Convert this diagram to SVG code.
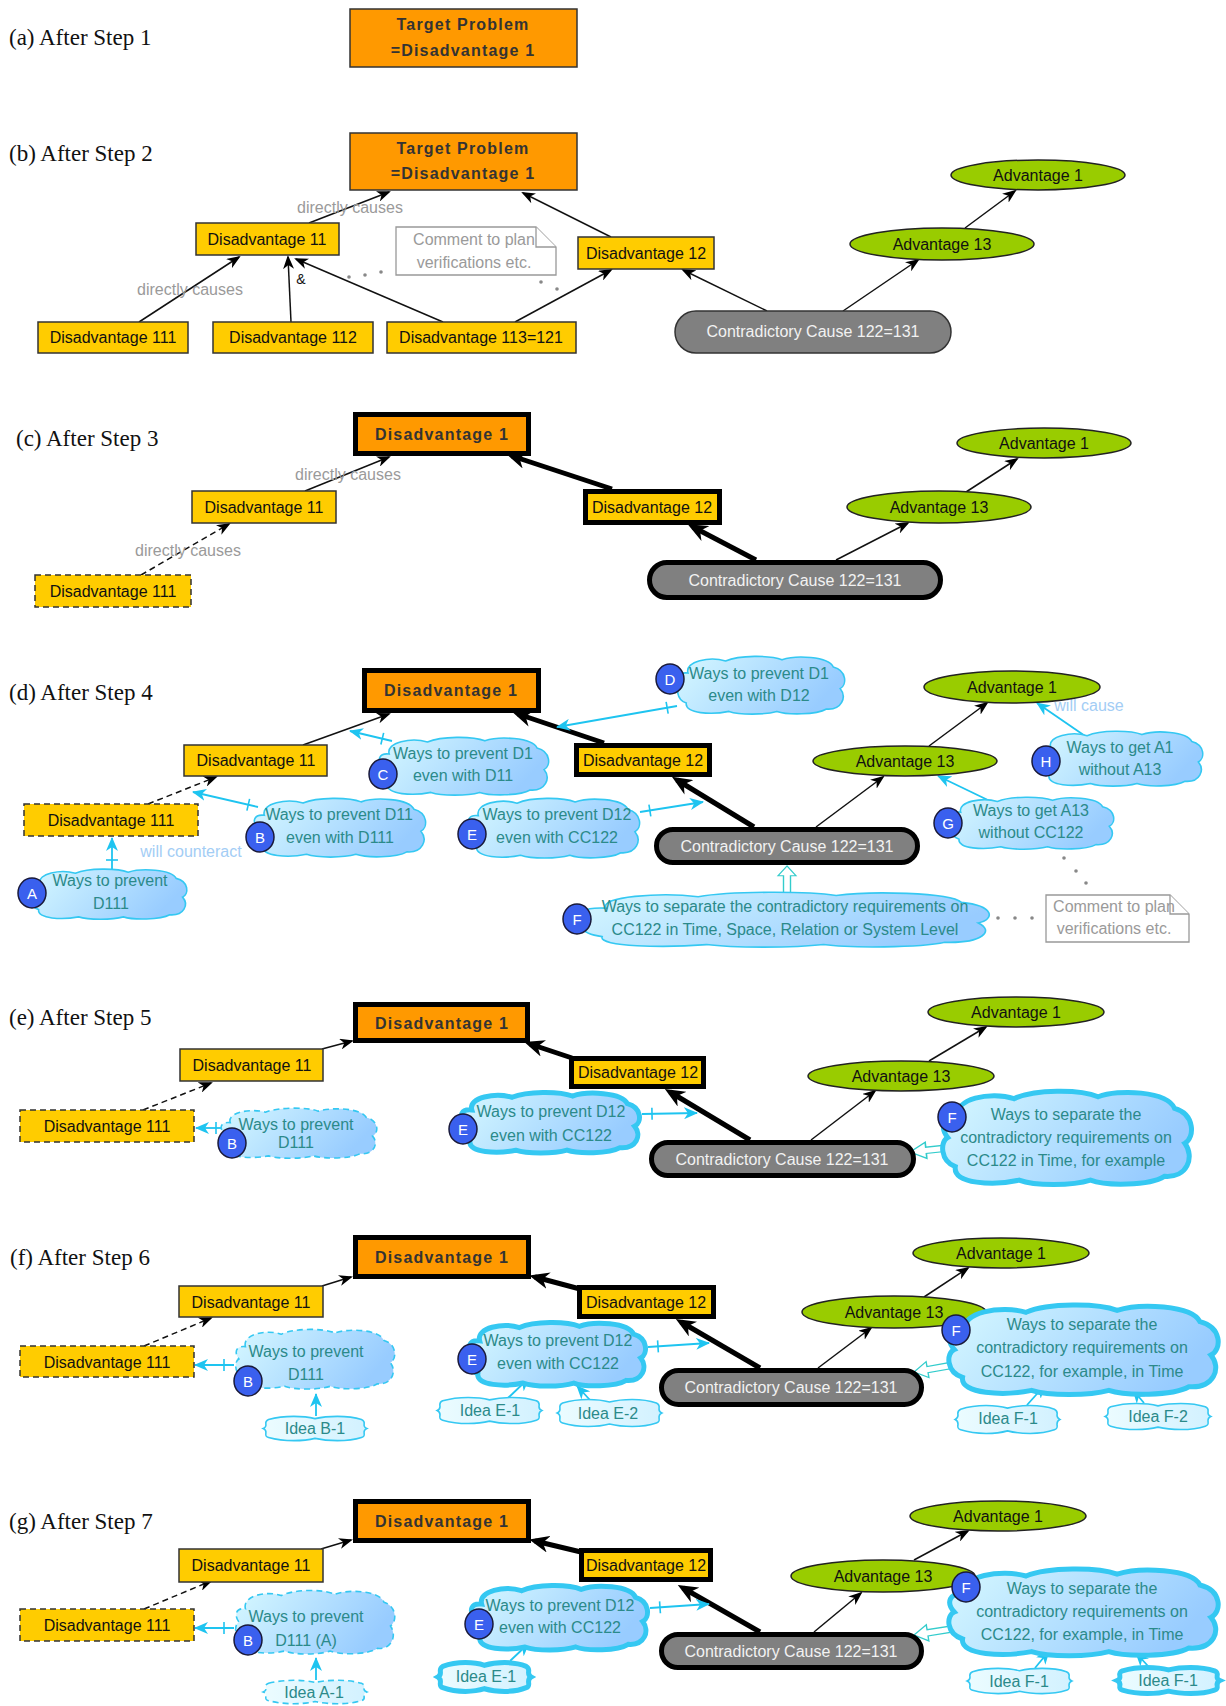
<svg xmlns="http://www.w3.org/2000/svg" xmlns:xlink="http://www.w3.org/1999/xlink" width="1226" height="1706" viewBox="0 0 1226 1706">
<style>
  .lbl{font-family:"Liberation Serif","Times New Roman",serif;font-size:23px;fill:#111;dominant-baseline:central}
  .t{font-family:"Liberation Sans",Arial,sans-serif;font-size:16px;fill:#111;text-anchor:middle;dominant-baseline:central}
  .tb{font-weight:bold;letter-spacing:1.2px;fill:#333}
  .tw{fill:#f2f2f2}
  .tc{fill:#2b8a8a}
  .tg{fill:#9a9a9a}
  .tl{fill:#a3cdf5}
  .ylw{fill:#ffcc00;stroke:#333;stroke-width:1.5}
  .dash{stroke-dasharray:6 4}
  .org{fill:#ff9900;stroke:#333;stroke-width:1.5}
  .adv{fill:#99cc00;stroke:#222;stroke-width:1.5}
  .cc{fill:#808080;stroke:#333;stroke-width:1.5}
  .k{stroke:#000;stroke-width:5}
  .cloud{fill:url(#cg);stroke:#35c8f2;stroke-width:1.6}
  .idea{fill:url(#ig);stroke:#35c8f2;stroke-width:1.6}
  .ck{stroke-width:5}
  .cd{stroke-dasharray:6 4}
  .tag{fill:#3a60ee;stroke:#1a1a3a;stroke-width:1.5}
  .tagt{font-family:"Liberation Sans",Arial,sans-serif;font-size:15px;fill:#fff;text-anchor:middle;dominant-baseline:central}
  .e{fill:none;stroke:#111;stroke-width:1.5;marker-end:url(#ah)}
  .ek{fill:none;stroke:#000;stroke-width:5;marker-end:url(#ahk)}
  .cy{fill:none;stroke:#1ec4f0;stroke-width:1.8;marker-end:url(#ahc)}
  .tick{marker-start:url(#tk)}
  .hol{fill:#fff;stroke:#33cccc;stroke-width:1.4}
  .note{fill:#fff;stroke:#999;stroke-width:1.3}
  .dot{fill:#888}
</style>
<defs>
  <linearGradient id="cg" x1="0" y1="0" x2="1" y2="0.3">
    <stop offset="0" stop-color="#d6f8ff"/>
    <stop offset="1" stop-color="#98ccff"/>
  </linearGradient>
  <linearGradient id="ig" x1="0" y1="0" x2="1" y2="0">
    <stop offset="0" stop-color="#ecfcff"/>
    <stop offset="1" stop-color="#d2f1ff"/>
  </linearGradient>
  <marker id="ah" markerUnits="userSpaceOnUse" markerWidth="14" markerHeight="11" viewBox="0 0 14 11" refX="12" refY="5.5" orient="auto">
    <path d="M0,0 L14,5.5 L0,11 L4,5.5 Z" fill="#000"/>
  </marker>
  <marker id="ahk" markerUnits="userSpaceOnUse" markerWidth="20" markerHeight="17" viewBox="0 0 20 17" refX="14" refY="8.5" orient="auto">
    <path d="M0,0 L20,8.5 L0,17 L6,8.5 Z" fill="#000"/>
  </marker>
  <marker id="ahc" markerUnits="userSpaceOnUse" markerWidth="14" markerHeight="12" viewBox="0 0 14 12" refX="13" refY="6" orient="auto">
    <path d="M0,0 L14,6 L0,12 L4,6 Z" fill="#1ec4f0"/>
  </marker>
  <marker id="tk" markerUnits="userSpaceOnUse" markerWidth="16" markerHeight="14" viewBox="0 -7 16 14" refX="0" refY="0" orient="auto">
    <path d="M10,-6 L10,6" stroke="#1ec4f0" stroke-width="1.6"/>
  </marker>
  <symbol id="cloud" viewBox="0 0 200 100" preserveAspectRatio="none" overflow="visible">
    <path vector-effect="non-scaling-stroke" d="M14,30 C10,10 40,2 58,10 C74,0 110,0 124,8 C140,0 178,2 184,20 C200,26 200,50 192,56 C200,70 194,92 176,90 C164,100 130,100 118,94 C104,100 74,100 62,94 C42,100 10,98 12,80 C0,74 0,54 6,50 C0,40 2,28 14,30 Z"/>
  </symbol>
  <symbol id="ideac" viewBox="0 0 200 60" preserveAspectRatio="none" overflow="visible">
    <path vector-effect="non-scaling-stroke" d="M14,10 C44,0 80,2 100,8 C122,2 160,0 186,10 C198,16 184,24 196,30 C184,36 198,46 186,50 C160,60 122,58 100,52 C80,58 44,60 14,50 C2,46 16,36 4,30 C16,24 2,16 14,10 Z"/>
  </symbol>
  <path id="hollowHead" d="M0,0 L-14,-9 L-14,-3.5 L-40,-3.5 L-40,3.5 L-14,3.5 L-14,9 Z"/>
</defs>

<!-- step captions -->
<g id="captions">
  <text class="lbl" x="9" y="37">(a) After Step 1</text>
  <text class="lbl" x="9" y="153">(b) After Step 2</text>
  <text class="lbl" x="16" y="438">(c) After Step 3</text>
  <text class="lbl" x="9" y="692">(d) After Step 4</text>
  <text class="lbl" x="9" y="1017">(e) After Step 5</text>
  <text class="lbl" x="10" y="1257">(f) After Step 6</text>
  <text class="lbl" x="9" y="1521">(g) After Step 7</text>
</g>

<!-- ===== connectors ===== -->
<g id="connectors">
  <!-- (b) -->
  <line class="e" x1="309" y1="223" x2="389" y2="192"/>
  <line class="e" x1="611" y1="237" x2="523" y2="193"/>
  <line class="e" x1="139" y1="322" x2="239" y2="257"/>
  <line class="e" x1="291" y1="322" x2="288" y2="257"/>
  <line class="e" x1="443" y1="322" x2="296" y2="259"/>
  <line class="e" x1="515" y1="322" x2="611" y2="270"/>
  <line class="e" x1="767" y1="311" x2="683" y2="270"/>
  <line class="e" x1="843" y1="311" x2="918" y2="260"/>
  <line class="e" x1="965" y1="228" x2="1015" y2="191"/>
  <circle class="dot" cx="349" cy="277" r="1.8"/><circle class="dot" cx="365" cy="275" r="1.8"/><circle class="dot" cx="381" cy="272" r="1.8"/>
  <circle class="dot" cx="541" cy="282" r="1.8"/><circle class="dot" cx="557" cy="289" r="1.8"/>

  <!-- (c) -->
  <line class="e" x1="305" y1="491" x2="389" y2="457"/>
  <line class="e dash" x1="141" y1="575" x2="229" y2="524"/>
  <line class="ek" x1="612" y1="489" x2="512" y2="456"/>
  <line class="ek" x1="756" y1="560" x2="693" y2="527"/>
  <line class="e" x1="836" y1="560" x2="908" y2="523"/>
  <line class="e" x1="966" y1="492" x2="1017" y2="459"/>

  <!-- (d) -->
  <line class="e" x1="303" y1="745" x2="389" y2="714"/>
  <line class="e dash" x1="148" y1="804" x2="216" y2="777"/>
  <line class="ek" x1="604" y1="743" x2="518" y2="714"/>
  <line class="ek" x1="754" y1="827" x2="677" y2="780"/>
  <line class="e" x1="816" y1="827" x2="883" y2="777"/>
  <line class="e" x1="929" y1="746" x2="987" y2="703"/>
  <line class="cy tick" x1="392" y1="741" x2="350" y2="731"/>
  <line class="cy tick" x1="258" y1="807" x2="193" y2="792"/>
  <line class="cy tick" x1="112" y1="870" x2="112" y2="838"/>
  <line class="cy tick" x1="640" y1="812" x2="703" y2="802"/>
  <line class="cy tick" x1="677" y1="706" x2="557" y2="727"/>
  <line class="cy" x1="1088" y1="738" x2="1037" y2="703"/>
  <line class="cy" x1="992" y1="802" x2="938" y2="776"/>
  <use href="#hollowHead" class="hol" transform="translate(787,866) rotate(-90) scale(0.7,1)"/>
  <circle class="dot" cx="1064" cy="858" r="1.8"/><circle class="dot" cx="1076" cy="871" r="1.8"/><circle class="dot" cx="1086" cy="883" r="1.8"/>
  <circle class="dot" cx="980" cy="918" r="1.8"/><circle class="dot" cx="998" cy="918" r="1.8"/><circle class="dot" cx="1015" cy="918" r="1.8"/><circle class="dot" cx="1032" cy="918" r="1.8"/>

  <!-- (e) -->
  <line class="e" x1="322" y1="1049" x2="352" y2="1041"/>
  <line class="e dash" x1="143" y1="1110" x2="211" y2="1083"/>
  <line class="ek" x1="572" y1="1058" x2="530" y2="1044"/>
  <line class="ek" x1="750" y1="1140" x2="670" y2="1092"/>
  <line class="e" x1="811" y1="1140" x2="875" y2="1091"/>
  <line class="e" x1="929" y1="1061" x2="986" y2="1027"/>
  <line class="cy tick" x1="226" y1="1128" x2="196" y2="1128"/>
  <line class="cy tick" x1="642" y1="1114" x2="697" y2="1113"/>
  <use href="#hollowHead" class="hol" transform="translate(910,1152) rotate(174) scale(1.15,0.9)"/>

  <!-- (f) -->
  <line class="e" x1="322" y1="1286" x2="351" y2="1277"/>
  <line class="e dash" x1="144" y1="1346" x2="211" y2="1318"/>
  <line class="ek" x1="580" y1="1289" x2="535" y2="1277"/>
  <line class="ek" x1="760" y1="1368" x2="681" y2="1322"/>
  <line class="e" x1="818" y1="1368" x2="871" y2="1328"/>
  <line class="e" x1="924" y1="1297" x2="968" y2="1268"/>
  <line class="cy tick" x1="234" y1="1365" x2="195" y2="1365"/>
  <line class="cy" x1="316" y1="1416" x2="316" y2="1394"/>
  <line class="cy" x1="508" y1="1398" x2="529" y2="1378"/>
  <line class="cy" x1="590" y1="1400" x2="577" y2="1386"/>
  <line class="cy tick" x1="648" y1="1347" x2="709" y2="1343"/>
  <line class="cy" x1="1027" y1="1405" x2="1045" y2="1385"/>
  <line class="cy" x1="1144" y1="1403" x2="1133" y2="1390"/>
  <use href="#hollowHead" class="hol" transform="translate(914,1372) rotate(170) scale(0.98,0.9)"/>

  <!-- (g) -->
  <line class="e" x1="321" y1="1549" x2="351" y2="1540"/>
  <line class="e dash" x1="144" y1="1609" x2="211" y2="1581"/>
  <line class="ek" x1="581" y1="1552" x2="535" y2="1541"/>
  <line class="ek" x1="760" y1="1632" x2="683" y2="1588"/>
  <line class="e" x1="814" y1="1632" x2="861" y2="1593"/>
  <line class="e" x1="914" y1="1560" x2="968" y2="1531"/>
  <line class="cy tick" x1="234" y1="1628" x2="195" y2="1628"/>
  <line class="cy" x1="316" y1="1680" x2="316" y2="1658"/>
  <line class="cy" x1="510" y1="1661" x2="529" y2="1643"/>
  <line class="cy tick" x1="650" y1="1608" x2="709" y2="1604"/>
  <line class="cy" x1="1035" y1="1668" x2="1049" y2="1651"/>
  <line class="cy" x1="1148" y1="1666" x2="1136" y2="1653"/>
  <use href="#hollowHead" class="hol" transform="translate(914,1635) rotate(171) scale(0.98,0.9)"/>
</g>

<!-- edge labels -->
<g id="edge-labels">
  <text class="t tg" x="350" y="207">directly causes</text>
  <text class="t tg" x="190" y="289">directly causes</text>
  <text class="t" x="301" y="279" style="font-size:14px">&amp;</text>
  <text class="t tg" x="348" y="474">directly causes</text>
  <text class="t tg" x="188" y="550">directly causes</text>
  <text class="t tl" x="191" y="851">will counteract</text>
  <text class="t tl" x="1089" y="705">will cause</text>
</g>

<!-- ===== (a) ===== -->
<g id="a-target">
  <rect class="org" x="350" y="9" width="227" height="58"/>
  <text class="t tb" x="463" y="24">Target Problem</text>
  <text class="t tb" x="463" y="50">=Disadvantage 1</text>
</g>

<!-- ===== (b) ===== -->
<g id="b-target">
  <rect class="org" x="350" y="133" width="227" height="57"/>
  <text class="t tb" x="463" y="148">Target Problem</text>
  <text class="t tb" x="463" y="173">=Disadvantage 1</text>
</g>
<g id="b-d11"><rect class="ylw" x="196" y="223" width="143" height="32"/><text class="t" x="267" y="239">Disadvantage 11</text></g>
<g id="b-d12"><rect class="ylw" x="578" y="237" width="136" height="32"/><text class="t" x="646" y="253">Disadvantage 12</text></g>
<g id="b-d111"><rect class="ylw" x="38" y="322" width="150" height="31"/><text class="t" x="113" y="337">Disadvantage 111</text></g>
<g id="b-d112"><rect class="ylw" x="213" y="322" width="160" height="31"/><text class="t" x="293" y="337">Disadvantage 112</text></g>
<g id="b-d113"><rect class="ylw" x="387" y="322" width="189" height="31"/><text class="t" x="481" y="337">Disadvantage 113=121</text></g>
<g id="b-cc"><rect class="cc" x="675" y="311" width="276" height="42" rx="21"/><text class="t tw" x="813" y="331">Contradictory Cause 122=131</text></g>
<g id="b-adv1"><ellipse class="adv" cx="1038" cy="175" rx="87" ry="15"/><text class="t" x="1038" y="175">Advantage 1</text></g>
<g id="b-adv13"><ellipse class="adv" cx="942" cy="244" rx="92" ry="16"/><text class="t" x="942" y="244">Advantage 13</text></g>
<g id="b-note">
  <path class="note" d="M396,227 H536 L556,247 V275 H396 Z"/>
  <path class="note" d="M536,227 V247 H556"/>
  <text class="t tg" x="474" y="239">Comment to plan</text>
  <text class="t tg" x="474" y="262">verifications etc.</text>
</g>

<!-- ===== (c) ===== -->
<g id="c-d1"><rect class="org k" x="355.5" y="414.5" width="173" height="39"/><text class="t tb" x="442" y="434">Disadvantage 1</text></g>
<g id="c-d11"><rect class="ylw" x="192" y="491" width="144" height="32"/><text class="t" x="264" y="507">Disadvantage 11</text></g>
<g id="c-d111"><rect class="ylw dash" x="35" y="575" width="156" height="32"/><text class="t" x="113" y="591">Disadvantage 111</text></g>
<g id="c-d12"><rect class="ylw k" x="585.5" y="491.5" width="134" height="31"/><text class="t" x="652" y="507">Disadvantage 12</text></g>
<g id="c-cc"><rect class="cc k" x="649.5" y="562.5" width="291" height="35" rx="17.5"/><text class="t tw" x="795" y="580">Contradictory Cause 122=131</text></g>
<g id="c-adv1"><ellipse class="adv" cx="1044" cy="443" rx="87" ry="15"/><text class="t" x="1044" y="443">Advantage 1</text></g>
<g id="c-adv13"><ellipse class="adv" cx="939" cy="507" rx="92" ry="16"/><text class="t" x="939" y="507">Advantage 13</text></g>

<!-- ===== (d) ===== -->
<g id="d-d1"><rect class="org k" x="364.5" y="670.5" width="174" height="40"/><text class="t tb" x="451" y="690">Disadvantage 1</text></g>
<g id="d-d11"><rect class="ylw" x="184" y="745" width="143" height="31"/><text class="t" x="256" y="760">Disadvantage 11</text></g>
<g id="d-d111"><rect class="ylw dash" x="24" y="804" width="174" height="32"/><text class="t" x="111" y="820">Disadvantage 111</text></g>
<g id="d-d12"><rect class="ylw k" x="576.5" y="745.5" width="133" height="29"/><text class="t" x="643" y="760">Disadvantage 12</text></g>
<g id="d-cc"><rect class="cc k" x="656.5" y="829.5" width="261" height="33" rx="16.5"/><text class="t tw" x="787" y="846">Contradictory Cause 122=131</text></g>
<g id="d-adv1"><ellipse class="adv" cx="1012" cy="687" rx="88" ry="16"/><text class="t" x="1012" y="687">Advantage 1</text></g>
<g id="d-adv13"><ellipse class="adv" cx="905" cy="761" rx="92" ry="15"/><text class="t" x="905" y="761">Advantage 13</text></g>
<g id="d-c">
  <use href="#cloud" class="cloud" x="377" y="736" width="174" height="60"/>
  <text class="t tc" x="463" y="753">Ways to prevent D1</text>
  <text class="t tc" x="463" y="775">even with D11</text>
  <ellipse class="tag" cx="383" cy="774" rx="14" ry="15"/><text class="tagt" x="383" y="774">C</text>
</g>
<g id="d-b">
  <use href="#cloud" class="cloud" x="252" y="797" width="176" height="61"/>
  <text class="t tc" x="339" y="814">Ways to prevent D11</text>
  <text class="t tc" x="340" y="837">even with D111</text>
  <ellipse class="tag" cx="260" cy="837" rx="14" ry="15"/><text class="tagt" x="260" y="837">B</text>
</g>
<g id="d-a">
  <use href="#cloud" class="cloud" x="29" y="868" width="160" height="52"/>
  <text class="t tc" x="110" y="880">Ways to prevent</text>
  <text class="t tc" x="111" y="903">D111</text>
  <ellipse class="tag" cx="32" cy="893" rx="14" ry="15"/><text class="tagt" x="32" y="893">A</text>
</g>
<g id="d-e">
  <use href="#cloud" class="cloud" x="466" y="797" width="176" height="62"/>
  <text class="t tc" x="557" y="814">Ways to prevent D12</text>
  <text class="t tc" x="557" y="837">even with CC122</text>
  <ellipse class="tag" cx="472" cy="834" rx="14" ry="15"/><text class="tagt" x="472" y="834">E</text>
</g>
<g id="d-d">
  <use href="#cloud" class="cloud" x="676" y="655" width="171" height="60"/>
  <text class="t tc" x="759" y="673">Ways to prevent D1</text>
  <text class="t tc" x="759" y="695">even with D12</text>
  <ellipse class="tag" cx="670" cy="679" rx="14" ry="15"/><text class="tagt" x="670" y="679">D</text>
</g>
<g id="d-h">
  <use href="#cloud" class="cloud" x="1039" y="730" width="166" height="57"/>
  <text class="t tc" x="1120" y="747">Ways to get A1</text>
  <text class="t tc" x="1120" y="769">without A13</text>
  <ellipse class="tag" cx="1046" cy="761" rx="14" ry="15"/><text class="tagt" x="1046" y="761">H</text>
</g>
<g id="d-g">
  <use href="#cloud" class="cloud" x="949" y="796" width="167" height="54"/>
  <text class="t tc" x="1031" y="810">Ways to get A13</text>
  <text class="t tc" x="1031" y="832">without CC122</text>
  <ellipse class="tag" cx="948" cy="823" rx="14" ry="15"/><text class="tagt" x="948" y="823">G</text>
</g>
<g id="d-f">
  <use href="#cloud" class="cloud" x="577" y="891" width="418" height="57"/>
  <text class="t tc" x="785" y="906">Ways to separate the contradictory requirements on</text>
  <text class="t tc" x="785" y="929">CC122 in Time, Space, Relation or System Level</text>
  <ellipse class="tag" cx="577" cy="919" rx="14" ry="15"/><text class="tagt" x="577" y="919">F</text>
</g>
<g id="d-note">
  <path class="note" d="M1046,895 H1170 L1189,914 V942 H1046 Z"/>
  <path class="note" d="M1170,895 V914 H1189"/>
  <text class="t tg" x="1114" y="906">Comment to plan</text>
  <text class="t tg" x="1114" y="928">verifications etc.</text>
</g>

<!-- ===== (e) ===== -->
<g id="e-d1"><rect class="org k" x="355.5" y="1004.5" width="172" height="36"/><text class="t tb" x="442" y="1023">Disadvantage 1</text></g>
<g id="e-d11"><rect class="ylw" x="180" y="1049" width="143" height="32"/><text class="t" x="252" y="1065">Disadvantage 11</text></g>
<g id="e-d111"><rect class="ylw dash" x="20" y="1110" width="174" height="32"/><text class="t" x="107" y="1126">Disadvantage 111</text></g>
<g id="e-d12"><rect class="ylw k" x="571.5" y="1058.5" width="132" height="28"/><text class="t" x="638" y="1072">Disadvantage 12</text></g>
<g id="e-cc"><rect class="cc k" x="651.5" y="1142.5" width="262" height="33" rx="16.5"/><text class="t tw" x="782" y="1159">Contradictory Cause 122=131</text></g>
<g id="e-adv1"><ellipse class="adv" cx="1016" cy="1012" rx="88" ry="15"/><text class="t" x="1016" y="1012">Advantage 1</text></g>
<g id="e-adv13"><ellipse class="adv" cx="901" cy="1076" rx="93" ry="15"/><text class="t" x="901" y="1076">Advantage 13</text></g>
<g id="e-b">
  <use href="#cloud" class="cloud cd" x="219" y="1107" width="160" height="52"/>
  <text class="t tc" x="296" y="1124">Ways to prevent</text>
  <text class="t tc" x="296" y="1142">D111</text>
  <ellipse class="tag" cx="232" cy="1143" rx="14" ry="15"/><text class="tagt" x="232" y="1143">B</text>
</g>
<g id="e-e">
  <use href="#cloud" class="cloud ck" x="459" y="1091" width="183" height="63"/>
  <text class="t tc" x="551" y="1111">Ways to prevent D12</text>
  <text class="t tc" x="551" y="1135">even with CC122</text>
  <ellipse class="tag" cx="463" cy="1129" rx="14" ry="15"/><text class="tagt" x="463" y="1129">E</text>
</g>
<g id="e-f">
  <use href="#cloud" class="cloud ck" x="940" y="1089" width="255" height="97"/>
  <text class="t tc" x="1066" y="1114">Ways to separate the</text>
  <text class="t tc" x="1066" y="1137">contradictory requirements on</text>
  <text class="t tc" x="1066" y="1160">CC122 in Time, for example</text>
  <ellipse class="tag" cx="952" cy="1117" rx="14" ry="15"/><text class="tagt" x="952" y="1117">F</text>
</g>

<!-- ===== (f) ===== -->
<g id="f-d1"><rect class="org k" x="355.5" y="1237.5" width="173" height="39"/><text class="t tb" x="442" y="1257">Disadvantage 1</text></g>
<g id="f-d11"><rect class="ylw" x="179" y="1286" width="144" height="31"/><text class="t" x="251" y="1302">Disadvantage 11</text></g>
<g id="f-d111"><rect class="ylw dash" x="20" y="1346" width="174" height="31"/><text class="t" x="107" y="1362">Disadvantage 111</text></g>
<g id="f-d12"><rect class="ylw k" x="579.5" y="1287.5" width="134" height="29"/><text class="t" x="646" y="1302">Disadvantage 12</text></g>
<g id="f-cc"><rect class="cc k" x="661.5" y="1370.5" width="260" height="34" rx="17"/><text class="t tw" x="791" y="1387">Contradictory Cause 122=131</text></g>
<g id="f-adv1"><ellipse class="adv" cx="1001" cy="1253" rx="88" ry="15"/><text class="t" x="1001" y="1253">Advantage 1</text></g>
<g id="f-adv13"><ellipse class="adv" cx="894" cy="1312" rx="92" ry="16"/><text class="t" x="894" y="1312">Advantage 13</text></g>
<g id="f-b">
  <use href="#cloud" class="cloud cd" x="234" y="1328" width="163" height="62"/>
  <text class="t tc" x="306" y="1351">Ways to prevent</text>
  <text class="t tc" x="306" y="1374">D111</text>
  <ellipse class="tag" cx="248" cy="1381" rx="14" ry="15"/><text class="tagt" x="248" y="1381">B</text>
</g>
<g id="f-ideab1">
  <use href="#ideac" class="idea" x="261" y="1415" width="108" height="27"/>
  <text class="t tc" x="315" y="1428">Idea B-1</text>
</g>
<g id="f-e">
  <use href="#cloud" class="cloud ck" x="467" y="1321" width="181" height="66"/>
  <text class="t tc" x="558" y="1340">Ways to prevent D12</text>
  <text class="t tc" x="558" y="1363">even with CC122</text>
  <ellipse class="tag" cx="472" cy="1359" rx="14" ry="15"/><text class="tagt" x="472" y="1359">E</text>
</g>
<g id="f-ideae1">
  <use href="#ideac" class="idea" x="435" y="1396" width="109" height="29"/>
  <text class="t tc" x="490" y="1410">Idea E-1</text>
</g>
<g id="f-ideae2">
  <use href="#ideac" class="idea" x="555" y="1398" width="109" height="30"/>
  <text class="t tc" x="608" y="1413">Idea E-2</text>
</g>
<g id="f-f">
  <use href="#cloud" class="cloud ck" x="946" y="1303" width="276" height="93"/>
  <text class="t tc" x="1082" y="1324">Ways to separate the</text>
  <text class="t tc" x="1082" y="1347">contradictory requirements on</text>
  <text class="t tc" x="1082" y="1371">CC122, for example, in Time</text>
  <ellipse class="tag" cx="956" cy="1330" rx="14" ry="15"/><text class="tagt" x="956" y="1330">F</text>
</g>
<g id="f-ideaf1">
  <use href="#ideac" class="idea" x="953" y="1404" width="109" height="31"/>
  <text class="t tc" x="1008" y="1418">Idea F-1</text>
</g>
<g id="f-ideaf2">
  <use href="#ideac" class="idea" x="1103" y="1402" width="110" height="29"/>
  <text class="t tc" x="1158" y="1416">Idea F-2</text>
</g>

<!-- ===== (g) ===== -->
<g id="g-d1"><rect class="org k" x="355.5" y="1501.5" width="173" height="39"/><text class="t tb" x="442" y="1521">Disadvantage 1</text></g>
<g id="g-d11"><rect class="ylw" x="179" y="1549" width="144" height="33"/><text class="t" x="251" y="1565">Disadvantage 11</text></g>
<g id="g-d111"><rect class="ylw dash" x="20" y="1609" width="174" height="32"/><text class="t" x="107" y="1625">Disadvantage 111</text></g>
<g id="g-d12"><rect class="ylw k" x="581.5" y="1550.5" width="129" height="29"/><text class="t" x="646" y="1565">Disadvantage 12</text></g>
<g id="g-cc"><rect class="cc k" x="661.5" y="1634.5" width="260" height="33" rx="16.5"/><text class="t tw" x="791" y="1651">Contradictory Cause 122=131</text></g>
<g id="g-adv1"><ellipse class="adv" cx="998" cy="1516" rx="88" ry="15"/><text class="t" x="998" y="1516">Advantage 1</text></g>
<g id="g-adv13"><ellipse class="adv" cx="883" cy="1576" rx="92" ry="16"/><text class="t" x="883" y="1576">Advantage 13</text></g>
<g id="g-b">
  <use href="#cloud" class="cloud cd" x="234" y="1589" width="163" height="66"/>
  <text class="t tc" x="306" y="1616">Ways to prevent</text>
  <text class="t tc" x="306" y="1640">D111 (A)</text>
  <ellipse class="tag" cx="248" cy="1640" rx="14" ry="15"/><text class="tagt" x="248" y="1640">B</text>
</g>
<g id="g-ideaa1">
  <use href="#ideac" class="idea cd" x="261" y="1679" width="108" height="26"/>
  <text class="t tc" x="314" y="1692">Idea A-1</text>
</g>
<g id="g-e">
  <use href="#cloud" class="cloud ck" x="469" y="1584" width="181" height="67"/>
  <text class="t tc" x="560" y="1605">Ways to prevent D12</text>
  <text class="t tc" x="560" y="1627">even with CC122</text>
  <ellipse class="tag" cx="479" cy="1624" rx="14" ry="15"/><text class="tagt" x="479" y="1624">E</text>
</g>
<g id="g-ideae1">
  <use href="#ideac" class="idea ck" x="436" y="1661" width="97" height="32"/>
  <text class="t tc" x="486" y="1676">Idea E-1</text>
</g>
<g id="g-f">
  <use href="#cloud" class="cloud ck" x="946" y="1567" width="276" height="90"/>
  <text class="t tc" x="1082" y="1588">Ways to separate the</text>
  <text class="t tc" x="1082" y="1611">contradictory requirements on</text>
  <text class="t tc" x="1082" y="1634">CC122, for example, in Time</text>
  <ellipse class="tag" cx="966" cy="1587" rx="14" ry="15"/><text class="tagt" x="966" y="1587">F</text>
</g>
<g id="g-ideaf1a">
  <use href="#ideac" class="idea" x="965" y="1667" width="109" height="28"/>
  <text class="t tc" x="1019" y="1681">Idea F-1</text>
</g>
<g id="g-ideaf1b">
  <use href="#ideac" class="idea ck" x="1115" y="1666" width="107" height="29"/>
  <text class="t tc" x="1168" y="1680">Idea F-1</text>
</g>
</svg>
